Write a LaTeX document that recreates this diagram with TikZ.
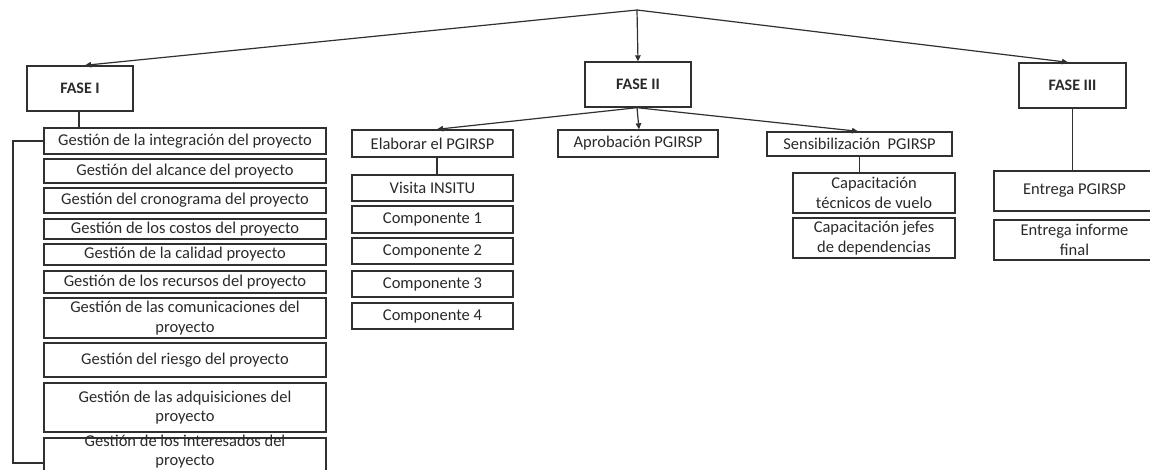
\documentclass[tikz,border=0pt]{standalone}
\usepackage{fontspec}
\setmainfont{Carlito}
\usetikzlibrary{arrows.meta}
\definecolor{ink}{HTML}{2A2A2A}
\definecolor{edge}{HTML}{303030}
\begin{document}
\begin{tikzpicture}[x=1pt,y=-1pt,
  box/.style={draw=edge,line width=1.4pt,fill=white,text=ink,inner sep=0pt,
    align=center,font=\fontsize{16.5}{19.5}\selectfont},
  phase/.style={box,font=\fontsize{16}{18}\selectfont\bfseries,
    minimum width=106pt,minimum height=45pt},
  link/.style={draw=edge,line width=1.2pt},
  arr/.style={link,-{Triangle[length=6pt,width=5.5pt]}}]
\useasboundingbox (0,0) rectangle (1150,469);
\fill[white] (0,0) rectangle (1150,469);

% root junction
\coordinate (root) at (637,10);

% phases
\node[phase] (f1) at (80,88.5) {FASE I};
\node[phase] (f2) at (638,84.5) {FASE II};
\node[phase,minimum width=107pt] (f3) at (1072.5,85.5) {FASE III};

% phase I: management areas
\tikzset{gi/.style={box,minimum width=282pt}}
\node[gi,minimum height=26pt] (g1) at (185,141) {Gestión de la integración del proyecto};
\node[gi,minimum height=24pt] (g2) at (185,171) {Gestión del alcance del proyecto};
\node[gi,minimum height=25pt] (g3) at (185,200.5) {Gestión del cronograma del proyecto};
\node[gi,minimum height=20pt] (g4) at (185,229) {Gestión de los costos del proyecto};
\node[gi,minimum height=21pt] (g5) at (185,254.5) {Gestión de la calidad proyecto};
\node[gi,minimum height=22pt] (g6) at (185,282) {Gestión de los recursos del proyecto};
\node[gi,minimum height=40pt] (g7) at (185,318) {Gestión de las comunicaciones del\\proyecto};
\node[gi,minimum height=34pt] (g8) at (185,360) {Gestión del riesgo del proyecto};
\node[gi,minimum height=49pt] (g9) at (185,407.5) {Gestión de las adquisiciones del\\proyecto};
\node[gi,minimum height=34pt] (g10) at (185,455) {};
\node[text=ink,align=center,inner sep=0pt,font=\fontsize{16.5}{18.5}\selectfont]
  (g10t) at (185,451.5) {Gestión de los interesados del\\proyecto};

% phase II
\node[box,minimum width=161pt,minimum height=27pt] (el) at (432.5,143.5) {Elaborar el PGIRSP};
\node[box,minimum width=160pt,minimum height=27pt] (ap) at (638,143.5) {Aprobación PGIRSP};
\node[box,minimum width=185pt,minimum height=24pt] (se) at (859.5,144) {Sensibilización\ \ PGIRSP};

\tikzset{cp/.style={box,minimum width=161pt,minimum height=26pt}}
\node[cp] (vi) at (432.5,188) {Visita INSITU};
\node[cp,minimum height=27pt] (c1) at (432.5,219.5) {Componente 1};
\node[cp] (c2) at (432.5,251) {Componente 2};
\node[cp] (c3) at (432.5,284) {Componente 3};
\node[cp] (c4) at (432.5,316) {Componente 4};

\tikzset{ca/.style={box,minimum width=162pt,minimum height=40pt}}
\node[ca] (ct) at (874,193) {Capacitación\\técnicos de vuelo};
\node[ca] (cj) at (874,238) {Capacitación jefes\\de dependencias};

% phase III
\node[ca,minimum width=161pt] (ep) at (1074.5,191) {Entrega PGIRSP};
\node[ca,minimum width=161pt] (ei) at (1074.5,240) {Entrega informe\\final};

% connectors from the root
\draw[arr] (root) -- ([xshift=5pt]f1.north);
\draw[arr] (root) -- (f2.north);
\draw[arr] (root) -- ([xshift=-4.5pt]f3.north);

% phase I
\draw[link] ([xshift=-1pt]f1.south) -- ([xshift=-1pt]f1.south |- g1.north);
\coordinate (brk) at (13,463);
\draw[draw=edge,line width=1.8pt] (g1.west) -| (brk) -- (brk -| g10.west);

% phase II
\draw[arr] ([xshift=-1pt]f2.south) -- ([xshift=4.5pt]el.north);
\draw[arr] ([xshift=-1pt]f2.south) -- ([xshift=1pt]ap.north);
\draw[arr] ([xshift=-1pt]f2.south) -- ([xshift=-1.5pt]se.north);
\draw[link] ([xshift=4.5pt]el.south) -- ([xshift=4.5pt]el.south |- vi.north);
\draw[link] (se.south) -- (se.south |- ct.north);

% phase III
\draw[link] (f3.south) -- (f3.south |- ep.north);
\end{tikzpicture}
\end{document}
